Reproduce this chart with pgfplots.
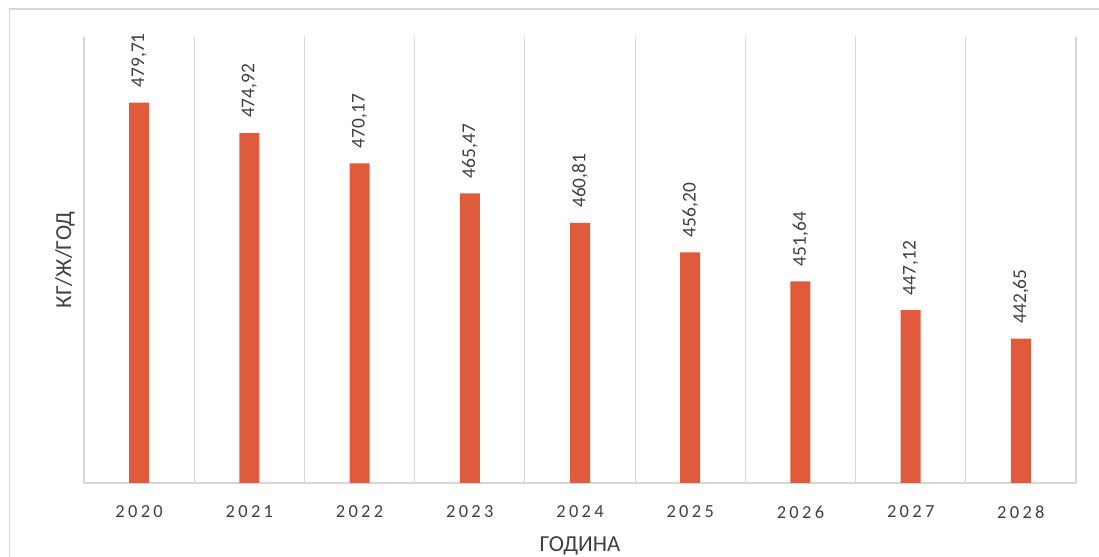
\documentclass[border=0pt]{standalone}
\usepackage{fontspec}
\setmainfont{Carlito}
\usepackage{pgfplots}
\pgfplotsset{compat=1.18}
\definecolor{barc}{HTML}{E05A3C}
\definecolor{gridc}{HTML}{D6D6D6}
\definecolor{txt}{HTML}{404040}

\begin{document}
\begin{tikzpicture}
\useasboundingbox (0bp,0bp) rectangle (1099bp,557bp);
\draw[gridc, line width=1.2bp] (9.5bp,-5bp) -- (9.5bp,548bp) -- (1110bp,548bp);
\begin{axis}[
    at={(84bp,74bp)}, anchor=south west,
    scale only axis, width=992bp, height=446bp,
    xmin=-0.5, xmax=8.5, ymin=420, ymax=490,
    separate axis lines,
    axis x line*=bottom, axis y line*=left,
    x axis line style={-, gridc, line width=1.2bp},
    y axis line style={draw=none},
    xtick={0,...,8},
    xticklabels={2020,2021,2022,2023,2024,2025,2026,2027,2028},
    minor xtick={-0.5,0.5,...,8.5},
    xminorgrids,
    minor grid style={gridc, line width=1.2bp},
    major tick length=0pt, minor tick length=0pt,
    ytick=\empty,
    xticklabel style={anchor=center, yshift=-29bp, text=txt,
        font=\fontsize{18.5}{20}\selectfont\addfontfeature{LetterSpace=18}},
    xlabel={ГОДИНА},
    ylabel={КГ/Ж/ГОД},
    xlabel style={at={([yshift=-63bp]axis description cs:0.5,0)}, anchor=center,
        text=txt, font=\fontsize{23}{26}\selectfont},
    ylabel style={at={([xshift=-19bp]axis description cs:0,0.5)}, anchor=center,
        rotate=0, text=txt, font=\fontsize{23}{26}\selectfont},
    ybar, bar width=20bp,
    nodes near coords,
    every node near coord/.append style={yshift=15bp, rotate=90, anchor=west,
        inner sep=0pt, text=txt, font=\fontsize{19.5}{21}\selectfont},
    /pgf/number format/fixed,
    /pgf/number format/fixed zerofill,
    /pgf/number format/precision=2,
    /pgf/number format/use comma,
    /pgf/number format/assume math mode=true,
]
\addplot[fill=barc, draw=none] coordinates {
    (0,479.71)
    (1,474.92)
    (2,470.17)
    (3,465.47)
    (4,460.81)
    (5,456.20)
    (6,451.64)
    (7,447.12)
    (8,442.65)
};
\end{axis}
\end{tikzpicture}
\end{document}
